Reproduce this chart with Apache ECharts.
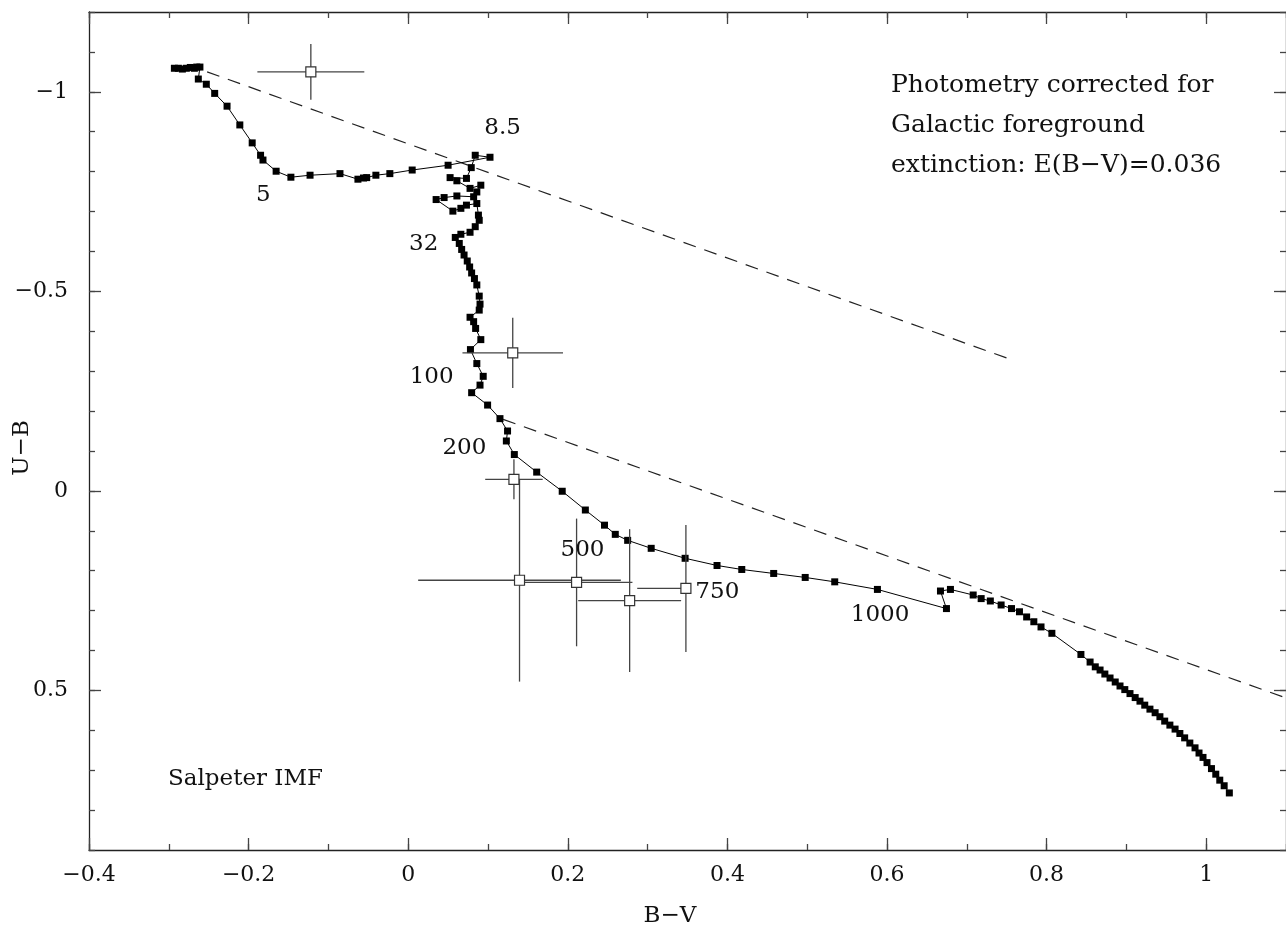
<!DOCTYPE html>
<html>
<head>
<meta charset="utf-8">
<script src="https://cdn.jsdelivr.net/npm/echarts@6/dist/echarts.min.js"></script>
<style>
  html, body { margin: 0; padding: 0; background: #fff; }
  #chart { width: 1286px; height: 939px; }
</style>
</head>
<body>
<div id="chart"></div>
<script>
// model track (B-V, U-B), in age order
const trackBV = [
  -0.293, -0.288, -0.283, -0.278, -0.273, -0.268, -0.265, -0.261, -0.263, -0.253,
  -0.2425, -0.227, -0.211, -0.1955, -0.185, -0.182, -0.1655, -0.147, -0.123, -0.0855,
  -0.063, -0.056, -0.052, -0.0405, -0.023, 0.005, 0.050, 0.1025, 0.084, 0.079,
  0.073, 0.0525, 0.061, 0.0775, 0.091, 0.086, 0.082, 0.061, 0.045, 0.035,
  0.056, 0.066, 0.073, 0.086, 0.088, 0.089, 0.084, 0.0775, 0.066, 0.059,
  0.064, 0.067, 0.070, 0.074, 0.077, 0.0795, 0.083, 0.086, 0.089, 0.090,
  0.089, 0.0775, 0.082, 0.0845, 0.091, 0.078, 0.086, 0.094, 0.090, 0.0795,
  0.0995, 0.115, 0.1245, 0.123, 0.133, 0.161, 0.193, 0.222, 0.246, 0.2595,
  0.275, 0.3045, 0.347, 0.387, 0.418, 0.458, 0.4975, 0.5345, 0.588, 0.6745,
  0.667, 0.6795, 0.708, 0.718, 0.7295, 0.743, 0.756, 0.766, 0.775, 0.784,
  0.793, 0.8066, 0.843, 0.8545, 0.861, 0.867, 0.873, 0.8795, 0.886, 0.892,
  0.898, 0.9045, 0.911, 0.917, 0.923, 0.9295, 0.936, 0.942, 0.948, 0.9545,
  0.961, 0.967, 0.973, 0.9795, 0.986, 0.991, 0.996, 1.001, 1.0066, 1.012,
  1.017, 1.0225, 1.029
];
const trackUB = [
  -1.059, -1.059, -1.057, -1.059, -1.061, -1.059, -1.062, -1.062, -1.032, -1.019,
  -0.996, -0.964, -0.917, -0.872, -0.841, -0.829, -0.801, -0.786, -0.791, -0.795,
  -0.781, -0.784, -0.785, -0.791, -0.795, -0.804, -0.816, -0.836, -0.841, -0.810,
  -0.783, -0.785, -0.777, -0.758, -0.766, -0.749, -0.737, -0.739, -0.735, -0.730,
  -0.701, -0.708, -0.716, -0.720, -0.691, -0.678, -0.662, -0.648, -0.643, -0.635,
  -0.620, -0.605, -0.591, -0.576, -0.561, -0.546, -0.532, -0.516, -0.488, -0.468,
  -0.453, -0.435, -0.424, -0.407, -0.379, -0.354, -0.319, -0.287, -0.265, -0.246,
  -0.215, -0.181, -0.150, -0.125, -0.091, -0.047, 0.001, 0.048, 0.086, 0.109,
  0.124, 0.144, 0.169, 0.187, 0.197, 0.207, 0.217, 0.228, 0.247, 0.295,
  0.251, 0.247, 0.261, 0.270, 0.276, 0.286, 0.295, 0.303, 0.316, 0.328,
  0.341, 0.357, 0.410, 0.429, 0.441, 0.449, 0.459, 0.469, 0.479, 0.489,
  0.498, 0.508, 0.518, 0.527, 0.537, 0.547, 0.556, 0.566, 0.577, 0.587,
  0.597, 0.608, 0.619, 0.632, 0.644, 0.657, 0.668, 0.681, 0.696, 0.710,
  0.725, 0.739, 0.757
];

// observed clusters with errors
const obsBV = [-0.122, 0.131, 0.1325, 0.1395, 0.211, 0.2775, 0.348];
const obsUB = [-1.050, -0.346, -0.029, 0.224, 0.2295, 0.275, 0.2446];
const obsErrBVMinus = [0.067, 0.063, 0.036, 0.127, 0.070, 0.0645, 0.061];
const obsErrBVPlus = [0.067, 0.063, 0.036, 0.127, 0.070, 0.0645, 0];
const obsErrUB = [0.070, 0.088, 0.050, 0.254, 0.160, 0.179, 0.159];

// reddening vectors
const vec1BV = [-0.252, 0.750];
const vec1UB = [-1.050, -0.333];
const vec2BV = [0.119, 1.1];
const vec2UB = [-0.179, 0.519];

// age labels (Myr)
const ageText = ['5', '8.5', '32', '100', '200', '500', '750', '1000'];
const ageBV = [-0.181, 0.119, 0.020, 0.030, 0.071, 0.219, 0.388, 0.592];
const ageUB = [-0.741, -0.909, -0.618, -0.285, -0.106, 0.149, 0.254, 0.312];

const xMajor = [-0.4, -0.2, 0, 0.2, 0.4, 0.6, 0.8, 1];
const yMajor = [-1, -0.5, 0, 0.5];

const FONT = 'DejaVu Serif';
const INK = '#111';
const fmt = v => (v < 0 ? '\u2212' : '') + Math.abs(v);

function makeAxis(dim, position, major, labels) {
  const isX = dim === 'x';
  const ax = {
    type: 'value',
    gridIndex: 0,
    position: position,
    min: isX ? -0.4 : -1.2,
    max: isX ? 1.1 : 0.9,
    interval: 0.1,
    inverse: !isX,
    splitLine: { show: false },
    axisLine: { show: major, onZero: false, lineStyle: { color: '#222', width: 1.3 } },
    axisTick: {
      show: true, inside: true, length: major ? 12 : 6,
      lineStyle: { color: '#444', width: 1.3 }
    },
    axisLabel: { show: false }
  };
  if (major) {
    ax.axisTick.customValues = isX ? xMajor : yMajor;
  }
  if (labels) {
    ax.axisLabel = {
      show: true,
      customValues: isX ? xMajor : yMajor,
      formatter: fmt,
      margin: isX ? 14 : 21,
      fontFamily: FONT,
      fontSize: 22,
      color: INK
    };
  }
  return ax;
}

const chart = echarts.init(document.getElementById('chart'));

const option = {
  animation: false,
  backgroundColor: '#fff',
  grid: { left: 89, top: 12, width: 1200, height: 838 },
  xAxis: [
    makeAxis('x', 'bottom', true, true),
    makeAxis('x', 'bottom', false, false),
    makeAxis('x', 'top', true, false),
    makeAxis('x', 'top', false, false)
  ],
  yAxis: [
    makeAxis('y', 'left', true, true),
    makeAxis('y', 'left', false, false),
    makeAxis('y', 'right', true, false),
    makeAxis('y', 'right', false, false)
  ],
  graphic: [
    { type: 'text', x: 891, y: 85, style: { text: 'Photometry corrected for', font: '25px "DejaVu Serif"', fill: INK, verticalAlign: 'middle' } },
    { type: 'text', x: 891, y: 125, style: { text: 'Galactic foreground', font: '25px "DejaVu Serif"', fill: INK, verticalAlign: 'middle' } },
    { type: 'text', x: 891, y: 165, style: { text: 'extinction: E(B\u2212V)=0.036', font: '25px "DejaVu Serif"', fill: INK, verticalAlign: 'middle' } },
    { type: 'text', x: 168, y: 779, style: { text: 'Salpeter IMF', font: '23px "DejaVu Serif"', fill: INK, verticalAlign: 'middle' } },
    { type: 'text', x: 670, y: 916, style: { text: 'B\u2212V', font: '23px "DejaVu Serif"', fill: INK, align: 'center', verticalAlign: 'middle' } },
    { type: 'text', x: 22, y: 448, rotation: Math.PI / 2, style: { text: 'U\u2212B', font: '23px "DejaVu Serif"', fill: INK, align: 'center', verticalAlign: 'middle' } }
  ],
  series: [
    {
      type: 'line',
      data: vec1BV.map((x, i) => [x, vec1UB[i]]),
      symbol: 'none',
      lineStyle: { color: '#222', width: 1.2, type: [13, 9] },
      silent: true,
      z: 2
    },
    {
      type: 'line',
      data: vec2BV.map((x, i) => [x, vec2UB[i]]),
      symbol: 'none',
      lineStyle: { color: '#222', width: 1.2, type: [13, 9] },
      silent: true,
      z: 2
    },
    {
      type: 'line',
      data: trackBV.map((x, i) => [x, trackUB[i]]),
      symbol: 'rect',
      symbolSize: 7,
      showAllSymbol: true,
      itemStyle: { color: '#000' },
      lineStyle: { color: '#000', width: 1 },
      silent: true,
      z: 3
    },
    {
      type: 'custom',
      data: obsBV.map((x, i) => [x, obsUB[i], obsErrBVMinus[i], obsErrBVPlus[i], obsErrUB[i]]),
      encode: { x: 0, y: 1 },
      renderItem: (params, api) => {
        const x = api.value(0), y = api.value(1);
        const a = api.coord([x - api.value(2), y]);
        const b = api.coord([x + api.value(3), y]);
        const c = api.coord([x, y - api.value(4)]);
        const d = api.coord([x, y + api.value(4)]);
        const style = { stroke: '#444', lineWidth: 1.3 };
        return {
          type: 'group',
          children: [
            { type: 'line', shape: { x1: a[0], y1: a[1], x2: b[0], y2: b[1] }, style: style },
            { type: 'line', shape: { x1: c[0], y1: c[1], x2: d[0], y2: d[1] }, style: style }
          ]
        };
      },
      silent: true,
      z: 4
    },
    {
      type: 'scatter',
      data: obsBV.map((x, i) => [x, obsUB[i]]),
      symbol: 'rect',
      symbolSize: 10,
      itemStyle: { color: '#fff', borderColor: '#333', borderWidth: 1.2, opacity: 1 },
      silent: true,
      z: 5
    },
    {
      type: 'scatter',
      data: ageBV.map((x, i) => ({ value: [x, ageUB[i]], label: { formatter: ageText[i] } })),
      symbolSize: 1,
      itemStyle: { color: 'rgba(0,0,0,0)', opacity: 1 },
      label: {
        show: true, position: [0, 0], align: 'center', verticalAlign: 'middle',
        fontFamily: FONT, fontSize: 23, color: INK, textBorderWidth: 0
      },
      silent: true,
      z: 6
    }
  ]
};

chart.setOption(option);
</script>
</body>
</html>
